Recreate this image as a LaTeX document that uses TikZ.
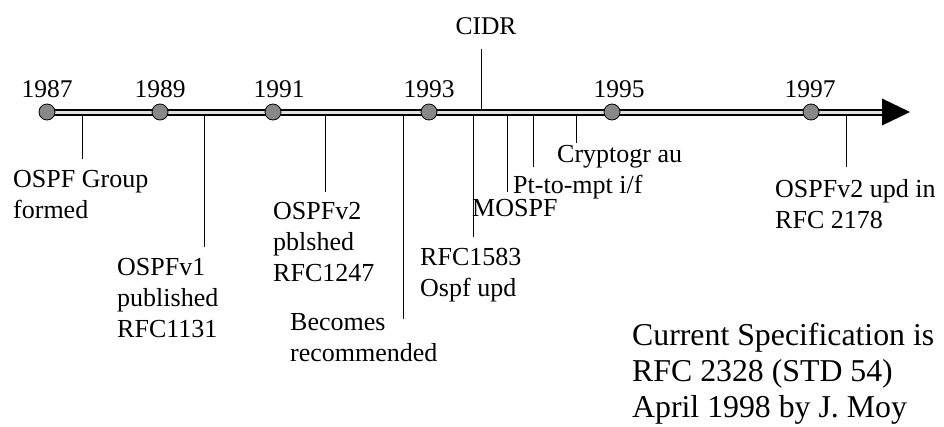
\documentclass[tikz,border=0pt]{standalone}
\usepackage{fontspec}
\setmainfont{Liberation Serif}
\usetikzlibrary{arrows.meta}
\definecolor{dotgray}{RGB}{136,136,136}
\definecolor{axgray}{RGB}{225,225,225}
\tikzset{
  yearlbl/.style={anchor=base, inner sep=0pt, font=\fontsize{25.5}{31}\selectfont},
  evlbl/.style={anchor=base west, inner sep=0pt, align=left, font=\fontsize{26}{31}\selectfont},
  biglbl/.style={anchor=base west, inner sep=0pt, align=left, font=\fontsize{31.8}{36}\selectfont},
  dot/.style={circle, draw=black, line width=0.8pt, fill=dotgray, minimum size=16pt, inner sep=0pt},
  tick/.style={draw=black, line width=1pt}
}
\begin{document}
\begin{tikzpicture}[x=1pt,y=-1pt]
\useasboundingbox (0,0) rectangle (944,426);
% tick coordinates
\foreach \n/\x/\e in {ta/82/159, tb/204/247, tc/325/192, td/403/319, te/473/237, tf/507/192, tg/533/167, th/576/143, ti/846/167}{
  \coordinate (\n0) at (\x,112);
  \coordinate (\n1) at (\x,\e);
  \draw[tick] (\n0) -- (\n1);
}
\coordinate (cidr0) at (481,49);
\coordinate (cidr1) at (481,112);
\draw[tick] (cidr0) -- (cidr1);
% axis
\coordinate (axs) at (47,112.5);
\coordinate (axe) at (884,112.5);
\draw[line width=7pt, black] (axs) -- (axe);
\draw[line width=2.6pt, axgray] (axs) -- (axe);
\fill[black] (882,98.5) -- (910,112) -- (882,125.5) -- cycle;
% dots
\node[dot] (d87) at (47,112) {};
\node[dot] (d89) at (160,112) {};
\node[dot] (d91) at (273,112) {};
\node[dot] (d93) at (429,112) {};
\node[dot] (d95) at (612,112) {};
\node[dot] (d97) at (811,112) {};
% years
\node[yearlbl] (y87) at (47,97) {1987};
\node[yearlbl] (y89) at (160,97) {1989};
\node[yearlbl] (y91) at (279,97) {1991};
\node[yearlbl] (y93) at (429,97) {1993};
\node[yearlbl] (y95) at (619,97) {1995};
\node[yearlbl] (y97) at (810,97) {1997};
\node[yearlbl] (cidr) at (486,34) {CIDR};
% event labels (base anchor = baseline of last line)
\node[evlbl] (la) at (13,218) {OSPF Group\\formed};
\node[evlbl] (lb) at (117,337) {OSPFv1\\published\\RFC1131};
\node[evlbl] (lc) at (273,281) {OSPFv2\\pblshed\\RFC1247};
\node[evlbl] (ld) at (290,361) {Becomes\\recommended};
\node[evlbl] (le) at (420,296) {RFC1583\\Ospf upd};
\node[evlbl] (lf) at (472,216) {MOSPF};
\node[evlbl] (lg) at (513,193) {Pt-to-mpt i/f};
\node[evlbl] (lh) at (557,162) {Cryptogr au};
\node[evlbl] (li) at (775,228) {OSPFv2 upd in\\RFC 2178};
\node[biglbl] (spec) at (632,417) {Current Specification is\\RFC 2328 (STD 54)\\April 1998 by J. Moy};
\end{tikzpicture}
\end{document}
